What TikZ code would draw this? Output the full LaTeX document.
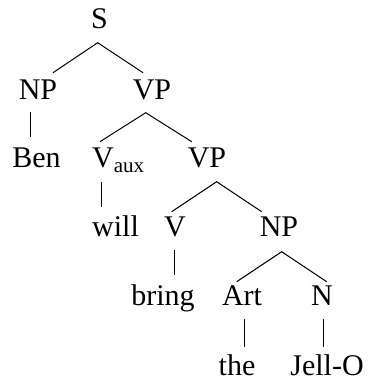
\documentclass[tikz,border=0pt]{standalone}
\usepackage{fontspec}
\setmainfont{Liberation Serif}
\begin{document}
\begin{tikzpicture}[x=1pt,y=-1pt,
  lbl/.style={anchor=base,inner sep=0pt,font=\fontsize{30}{36}\selectfont},
  edge/.style={draw=black,line width=1pt}]
\useasboundingbox (0,0) rectangle (369,381);
% nodes
\node[lbl] (S) at (99.5,28) {S};
\node[lbl] (NP1) at (38,99) {NP};
\node[lbl] (VP1) at (152,99) {VP};
\node[lbl] (Ben) at (36.5,167) {Ben};
\node[lbl,anchor=base west] (Vaux) at (92,167) {V\raisebox{-5pt}{\fontsize{21}{24}\selectfont aux}};
\node[lbl] (VP2) at (207,167.5) {VP};
\node[lbl] (will) at (115.5,236.7) {will};
\node[lbl] (V) at (175,236.7) {V};
\node[lbl] (NP2) at (279,236.7) {NP};
\node[lbl] (bring) at (163,305) {bring};
\node[lbl] (Art) at (242,305) {Art};
\node[lbl] (N) at (322,305) {N};
\node[lbl] (the) at (237,375) {the};
\node[lbl] (JellO) at (327,375) {Jell-O};
% connector ends
\coordinate (S-a) at (97.7,42.7);
\coordinate (NP1-t) at (53,72.7);
\coordinate (VP1-t) at (143,72.7);
\coordinate (NP1-b) at (30,112);
\coordinate (Ben-t) at (30,137);
\coordinate (VP1-a) at (145.7,112.7);
\coordinate (Vaux-t) at (100,141.7);
\coordinate (VP2-t) at (191.7,141.7);
\coordinate (Vaux-b) at (101.7,181.7);
\coordinate (will-t) at (101.7,206.7);
\coordinate (VP2-a) at (216.7,181.7);
\coordinate (V-t) at (171.7,211.7);
\coordinate (NP2-t) at (261.7,211.7);
\coordinate (V-b) at (174,250);
\coordinate (bring-t) at (174,275);
\coordinate (NP2-a) at (281.7,251.7);
\coordinate (Art-t) at (236.7,281.7);
\coordinate (N-t) at (326.7,281.7);
\coordinate (Art-b) at (244,319);
\coordinate (the-t) at (244,346.7);
\coordinate (N-b) at (323,319);
\coordinate (JellO-t) at (323,346.7);
% connectors
\draw[edge] (NP1-t) -- (S-a) -- (VP1-t);
\draw[edge] (NP1-b) -- (Ben-t);
\draw[edge] (Vaux-t) -- (VP1-a) -- (VP2-t);
\draw[edge] (Vaux-b) -- (will-t);
\draw[edge] (V-t) -- (VP2-a) -- (NP2-t);
\draw[edge] (V-b) -- (bring-t);
\draw[edge] (Art-t) -- (NP2-a) -- (N-t);
\draw[edge] (Art-b) -- (the-t);
\draw[edge] (N-b) -- (JellO-t);
\end{tikzpicture}
\end{document}
